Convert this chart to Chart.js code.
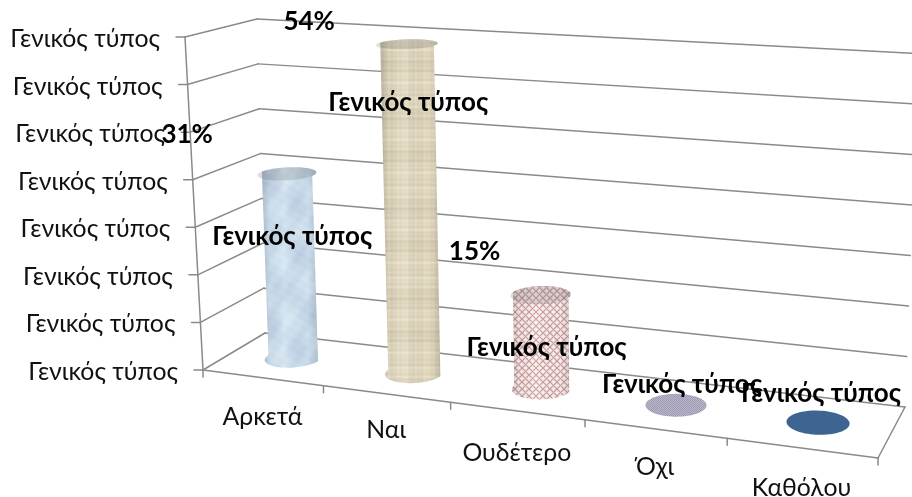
<!DOCTYPE html>
<html lang="el">
<head>
<meta charset="utf-8">
<style>html,body{margin:0;padding:0;background:#fff}canvas{display:block}</style>
<script src="https://cdn.jsdelivr.net/npm/chart.js@4"></script>
</head>
<body>
<canvas id="c" width="912" height="497"></canvas>
<script>
const categories = ['Αρκετά', 'Ναι', 'Ουδέτερο', 'Όχι', 'Καθόλου'];
const values = [31, 54, 15, 0, 0];
const percentLabels = ['31%', '54%', '15%', '', ''];
const barLabel = 'Γενικός τύπος';
const yTickLabels = ['Γενικός τύπος', 'Γενικός τύπος', 'Γενικός τύπος', 'Γενικός τύπος',
                     'Γενικός τύπος', 'Γενικός τύπος', 'Γενικός τύπος', 'Γενικός τύπος'];
const axisMax = 55;
const tickCount = yTickLabels.length;

// view of the box: where the floor's four corners land on the page
const floorQuad = [[203,370],[878,458],[905,407],[265,333]];
const widthWarp = 1.065;

function squareToQuad(q){
  const [[x0,y0],[x1,y1],[x2,y2],[x3,y3]] = q;
  const dx1=x1-x2, dx2=x3-x2, sx=x0-x1+x2-x3;
  const dy1=y1-y2, dy2=y3-y2, sy=y0-y1+y2-y3;
  const den=dx1*dy2-dx2*dy1;
  const g=(sx*dy2-dx2*sy)/den, h=(dx1*sy-sx*dy1)/den;
  const a=x1-x0+g*x1, b=x3-x0+h*x3, c=x0;
  const d=y1-y0+g*y1, e=y3-y0+h*y3, f=y0;
  return (u,v)=>{const w=g*u+h*v+1;return [(a*u+b*v+c)/w,(d*u+e*v+f)/w];};
}
const floorMap = squareToQuad(floorQuad);
// a unit of height lifts a floor point by an amount that is affine in its page position
function project(s,depth,level){
  const u=widthWarp*s/(1+(widthWarp-1)*s);
  const [x,y]=floorMap(u,depth);
  const lean=.053*(x-543)-.18*(y-370);
  const rise=.00196*x+.5167*y+141.4;
  return [x+lean*level, y-rise*level];
}

function noiseTexture(w,h,fn){
  const cv=document.createElement('canvas');cv.width=w;cv.height=h;
  const g=cv.getContext('2d'),im=g.createImageData(w,h);
  for(let y=0;y<h;y++)for(let x=0;x<w;x++){
    const c=fn(x,y),i=(y*w+x)*4;
    im.data[i]=c[0];im.data[i+1]=c[1];im.data[i+2]=c[2];im.data[i+3]=255;
  }
  g.putImageData(im,0,0);return cv;
}
const textures = [
  noiseTexture(120,240,(x,y)=>{
    const n=Math.sin(x*.17+y*.07)+Math.sin(x*.11-y*.13)+.5*Math.sin(x*.43+y*.31)+.35*Math.sin(y*.7-x*.4);
    return [203+n*5,221+n*5,238+n*3];
  }),
  noiseTexture(90,90,(x,y)=>{
    const a=Math.sin(x*1.05)*Math.sin(x*.37)+.6*Math.sin(x*.21);
    const b=Math.sin(y*1.05)*Math.sin(y*.29)+.6*Math.sin(y*.17);
    const n=a*5+b*8+3*Math.sin(x*2.3+y*1.9);
    return [222+n,213+n,187+n*1.1];
  }),
  noiseTexture(14,14,(x,y)=>{
    const d1=Math.min((x+y)%7,7-(x+y)%7), d2=Math.min((x-y+14)%7,7-(x-y+14)%7);
    const v=Math.max(0,1-Math.min(d1,d2)/1.6);
    return [250-v*45,240-v*85,240-v*85];
  }),
  noiseTexture(4,4,(x,y)=>((x+y)%2===0)?[158,154,180]:[186,183,202]),
  noiseTexture(2,2,()=>[62,100,146])
];

const GRID = '#8a8a8a';
const LABEL_FONT = '24.8px Lato, "Noto Sans", sans-serif';
const BOLD_FONT = 'bold 26px Lato, "Noto Sans", sans-serif';
const valueLabelOffset = [[-1,-121],[-6,-270],[5,-41],[6,-20],[3,-29]];
const percentOffset = [[-106,-223],[-105,-351],[-67,-137]];
const xLabelDrop = [39,36,42,38,40];

const box3d = {
  id:'box3d',
  afterDatasetsDraw(chart){
    const ctx=chart.ctx, area=chart.chartArea, xs=chart.scales.x, ys=chart.scales.y;
    const W=area.right-area.left, H=area.bottom-area.top;
    const lvl=v=>(area.bottom-ys.getPixelForValue(v))/H;
    const S=px=>(px-area.left)/W;
    const meta=chart.getDatasetMeta(0);
    ctx.save();
    ctx.lineCap='round';
    ctx.strokeStyle=GRID;ctx.lineWidth=1.5;
    const line=(a,b)=>{ctx.beginPath();ctx.moveTo(a[0],a[1]);ctx.lineTo(b[0],b[1]);ctx.stroke();};
    ys.ticks.forEach(t=>{
      const l=lvl(t.value);
      const f=project(0,0,l), bl=project(0,1,l), br=project(1,1,l);
      line(f,bl);line(bl,br);
      line([f[0]-9,f[1]],f);
    });
    line(project(0,0,0),project(0,0,1));
    line(project(0,0,0),project(1,0,0));
    line(project(1,0,0),project(1,1,0));
    const step=xs.getPixelForValue(1)-xs.getPixelForValue(0);
    for(let i=0;i<=categories.length;i++){
      const p=project(S(xs.getPixelForValue(0)+step*(i-.5)),0,0);
      line(p,[p[0],p[1]+7]);
    }
    // cylinders
    const rd=.235, N=72;
    meta.data.forEach((bar,i)=>{
      const s=S(bar.x), rs=bar.width/2/W, l=(area.bottom-bar.y)/H;
      const at=(k,level)=>{const a=k/N*Math.PI*2;
        return project(s+rs*Math.cos(a),.5+rd*Math.sin(a),level);};
      const hull=[];
      for(let k=N/2;k<=N;k++) hull.push(at(k,0));
      for(let k=0;k<=N/2;k++) hull.push(at(k,l));
      const face=[];for(let k=0;k<N;k++) face.push(at(k,l));
      const path=p=>{ctx.beginPath();ctx.moveTo(p[0][0],p[0][1]);p.forEach(q=>ctx.lineTo(q[0],q[1]));ctx.closePath();};
      const xMin=Math.min(...hull.map(p=>p[0])), xMax=Math.max(...hull.map(p=>p[0]));
      path(hull);
      ctx.fillStyle=ctx.createPattern(textures[i],'repeat');
      ctx.fill();
      if(l>0.01){
        const sh=ctx.createLinearGradient(xMin,0,xMax,0);
        sh.addColorStop(0,'rgba(70,70,70,.22)');sh.addColorStop(.14,'rgba(70,70,70,.05)');
        sh.addColorStop(.4,'rgba(255,255,255,.12)');sh.addColorStop(.82,'rgba(70,70,70,.02)');
        sh.addColorStop(1,'rgba(70,70,70,.2)');
        ctx.fillStyle=sh;ctx.fill();
        path(face);ctx.fillStyle='rgba(90,90,90,.2)';ctx.fill();
      }
    });
    // axis labels
    ctx.fillStyle='#111';ctx.textBaseline='middle';
    ctx.font=LABEL_FONT;ctx.textAlign='right';
    ys.ticks.forEach((t,i)=>{
      const p=project(0,0,lvl(t.value));
      ctx.fillText(yTickLabels[i],p[0]-25,p[1]+2);
    });
    ctx.textAlign='center';
    categories.forEach((c,i)=>{
      const p=project(S(xs.getPixelForValue(i)),0,0);
      ctx.fillText(c,p[0],p[1]+xLabelDrop[i]);
    });
    // value labels
    ctx.font=BOLD_FONT;ctx.fillStyle='#000';
    meta.data.forEach((bar,i)=>{
      const p=project(S(bar.x),.5,0);
      ctx.fillText(barLabel,p[0]+valueLabelOffset[i][0],p[1]+valueLabelOffset[i][1]);
      if(percentLabels[i]) ctx.fillText(percentLabels[i],p[0]+percentOffset[i][0],p[1]+percentOffset[i][1]);
    });
    ctx.restore();
  }
};

new Chart(document.getElementById('c'),{
  type:'bar',
  data:{labels:categories,datasets:[{data:values,backgroundColor:'rgba(0,0,0,0)',borderWidth:0,
    barPercentage:.42,categoryPercentage:1}]},
  options:{
    responsive:false,animation:false,
    layout:{padding:0},
    plugins:{legend:{display:false},tooltip:{enabled:false}},
    scales:{
      x:{type:'category',display:false,offset:true},
      y:{type:'linear',display:false,min:0,max:axisMax,ticks:{count:tickCount,autoSkip:false}}
    }
  },
  plugins:[box3d]
});
</script>
</body>
</html>
